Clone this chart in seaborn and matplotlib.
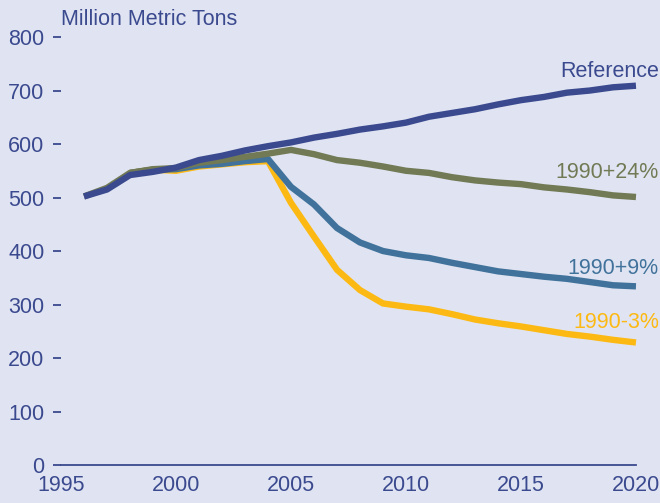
import numpy as np
import pandas as pd
import seaborn as sns
import matplotlib.pyplot as plt

# ===============================
# Data
# ===============================
years = list(range(1996, 2021))
reference = [502, 515, 542, 548, 556, 570, 578, 588, 596, 603, 612, 619, 627, 633, 640, 651,
             658, 665, 674, 682, 688, 696, 700, 706, 709]
plus24 = [502, 518, 546, 553, 555, 565, 570, 576, 582, 589, 581, 570, 565, 558, 550, 546,
          538, 532, 528, 525, 519, 515, 510, 504, 501]
years_late = list(range(1998, 2021))
plus9 = [546, 552, 553, 560, 563, 568, 572, 520, 487, 443, 416, 400, 392, 387, 378, 370,
         362, 357, 352, 348, 342, 336, 334]
minus3 = [546, 552, 550, 558, 562, 566, 568, 490, 427, 365, 327, 302, 296, 291, 282, 272,
          265, 259, 252, 245, 240, 234, 229]

series_names = ['1990-3%', '1990+9%', '1990+24%', 'Reference']
colors = ['#FDB913', '#41729B', '#717A55', '#3B4A8F']
x_ticks = [1995, 2000, 2005, 2010, 2015, 2020]
y_ticks = [0, 100, 200, 300, 400, 500, 600, 700, 800]

df = pd.concat([
    pd.DataFrame({'year': years_late, 'value': minus3, 'scenario': '1990-3%'}),
    pd.DataFrame({'year': years_late, 'value': plus9, 'scenario': '1990+9%'}),
    pd.DataFrame({'year': years, 'value': plus24, 'scenario': '1990+24%'}),
    pd.DataFrame({'year': years, 'value': reference, 'scenario': 'Reference'}),
])

# ===============================
# Style
# ===============================
bg = '#E0E4F2'
navy = '#3B4A8F'
sns.set_theme(style='white')
plt.rcParams['font.family'] = ['Liberation Sans', 'DejaVu Sans']

fig = plt.figure(figsize=(6.6, 5.03), dpi=100, facecolor=bg)
ax = fig.add_axes([0.0924, 0.0755, 0.8712, 0.8509], facecolor=bg)

sns.lineplot(data=df, x='year', y='value', hue='scenario', hue_order=series_names,
             palette=colors, linewidth=4.6, legend=False, ax=ax, solid_capstyle='butt')
for ln in ax.lines:
    ln.set_clip_on(False)

ax.set_xlim(1995, 2020)
ax.set_ylim(0, 800)
ax.set_xticks(x_ticks)
ax.set_yticks(y_ticks)
ax.set_xlabel('')
ax.set_ylabel('')

for s in ['top', 'right', 'left']:
    ax.spines[s].set_visible(False)
ax.spines['bottom'].set_color(navy)
ax.spines['bottom'].set_linewidth(1.3)
ax.tick_params(axis='x', direction='out', length=6, width=1.3, color=navy,
               labelcolor=navy, labelsize=15.5, pad=1)
ax.tick_params(axis='y', direction='out', length=6, width=1.3, color=navy,
               labelcolor=navy, labelsize=15.5, pad=6, left=True)

ax.text(0.0, 1.042, 'Million Metric Tons', transform=ax.transAxes, color=navy,
        fontsize=15.5, ha='left', va='center')

# series labels
label_pos = {'Reference': 736, '1990+24%': 546, '1990+9%': 368, '1990-3%': 266}
for name, c in zip(series_names, colors):
    ax.text(2021.0, label_pos[name], name, color=c, fontsize=15.5, ha='right', va='center',
            clip_on=False)

fig.savefig('out.png', dpi=100, facecolor=bg)
